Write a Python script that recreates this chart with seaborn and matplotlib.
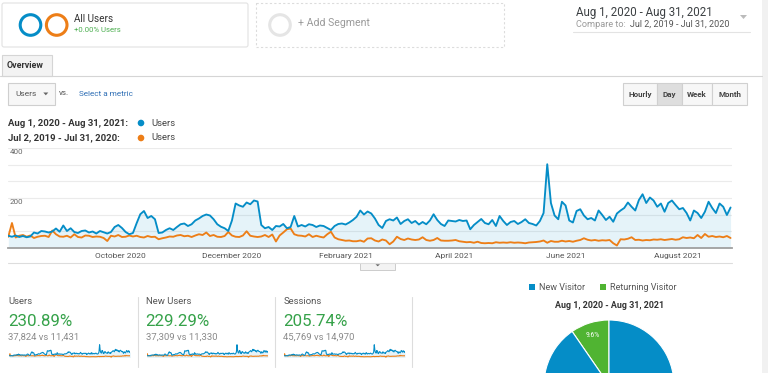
import numpy as np
import pandas as pd
import matplotlib
matplotlib.use("Agg")
import matplotlib.pyplot as plt
import matplotlib.dates as mdates
from matplotlib.patches import Rectangle, Circle, FancyBboxPatch, Polygon
import seaborn as sns

# Users per day (read every 2nd day): Aug 1, 2020 - Aug 31, 2021
users_current = [
    49, 45, 50, 44, 48, 43, 46, 62, 58, 68,
    66, 62, 66, 78, 65, 90, 68, 79, 64, 60,
    68, 70, 62, 66, 58, 68, 63, 58, 64, 84,
    92, 80, 64, 55, 60, 99, 135, 148, 120, 128,
    115, 60, 62, 72, 79, 72, 84, 95, 98, 88,
    95, 110, 118, 128, 134, 130, 115, 95, 85, 79,
    68, 110, 178, 170, 165, 182, 175, 190, 186, 92,
    79, 84, 72, 88, 86, 96, 79, 84, 128, 86,
    92, 86, 95, 92, 84, 90, 88, 80, 72, 88,
    96, 98, 94, 102, 112, 125, 150, 134, 146, 138,
    118, 92, 80, 108, 115, 110, 122, 96, 108, 115,
    100, 108, 94, 104, 95, 110, 135, 112, 96, 88,
    110, 108, 106, 112, 108, 110, 75, 92, 104, 116,
    100, 95, 112, 88, 128, 108, 92, 104, 108, 96,
    104, 115, 100, 96, 90, 108, 140, 335, 180, 130,
    115, 185, 170, 110, 102, 148, 155, 130, 115, 120,
    110, 150, 132, 112, 125, 105, 138, 150, 160, 182,
    165, 150, 192, 215, 180, 202, 190, 165, 178, 145,
    180, 190, 172, 155, 160, 140, 110, 150, 140, 120,
    145, 185, 160, 140, 178, 165, 132, 162,
]
# comparison period: Jul 2, 2019 - Jul 31, 2020
users_previous = [
    45, 100, 42, 49, 52, 45, 50, 40, 45, 48,
    49, 44, 70, 55, 46, 45, 49, 42, 55, 44,
    42, 50, 49, 44, 46, 45, 40, 28, 49, 46,
    52, 44, 45, 50, 46, 49, 44, 42, 48, 44,
    45, 35, 39, 42, 46, 45, 50, 52, 47, 49,
    44, 50, 55, 52, 62, 48, 52, 45, 44, 48,
    64, 50, 45, 44, 50, 67, 49, 46, 44, 46,
    52, 44, 54, 26, 50, 62, 75, 78, 55, 50,
    49, 46, 55, 44, 49, 45, 42, 55, 65, 42,
    35, 32, 29, 30, 27, 27, 30, 25, 38, 39,
    30, 26, 34, 30, 15, 26, 45, 36, 32, 38,
    34, 32, 34, 43, 32, 29, 32, 40, 30, 29,
    29, 30, 32, 27, 25, 23, 24, 21, 25, 20,
    19, 20, 19, 23, 21, 22, 21, 23, 21, 22,
    21, 19, 22, 23, 24, 26, 30, 21, 28, 25,
    25, 29, 26, 28, 25, 29, 32, 39, 33, 30,
    32, 29, 31, 30, 32, 19, 10, 35, 34, 37,
    43, 32, 33, 30, 32, 31, 34, 33, 35, 32,
    34, 36, 33, 35, 43, 40, 42, 39, 52, 40,
    56, 45, 48, 44, 46, 43, 48, 40,
]
dates = pd.date_range("2020-08-01", periods=len(users_current), freq="2D")
month_ticks = ["2020-10-01", "2020-12-01", "2021-02-01", "2021-04-01", "2021-06-01", "2021-08-01"]

metric_names = ["Users", "New Users", "Sessions"]
metric_changes = ["230.89%", "229.29%", "205.74%"]
metric_totals = ["37,824 vs 11,431", "37,309 vs 11,330", "45,769 vs 14,970"]

visitor_types = ["Returning Visitor", "New Visitor"]
visitor_share = [9.6, 90.4]

BLUE = "#058dc7"
ORANGE = "#ed7e17"
GREEN = "#50b432"
W, H = 768, 373

sns.set_style("white")
plt.rcParams["font.family"] = ["Roboto", "DejaVu Sans"]

fig = plt.figure(figsize=(W / 100, H / 100), dpi=100)


def px_axes(x0, y0, x1, y1, **kw):
    return fig.add_axes([x0 / W, 1 - y1 / H, (x1 - x0) / W, (y1 - y0) / H], **kw)


# background layer in pixel coordinates
bg = px_axes(0, 0, W, H)
bg.set_xlim(0, W)
bg.set_ylim(H, 0)
bg.axis("off")
bg.add_patch(Rectangle((762, 0), 6, H, fc="#f1f1f1", ec="none"))

# segment boxes
bg.add_patch(FancyBboxPatch((2, 3), 246, 44, boxstyle="round,pad=0,rounding_size=2",
                            fc="white", ec="#e2e2e2", lw=0.8))
bg.add_patch(Rectangle((256, 3), 248, 44, fill=False, ec="#dcdcdc", lw=0.8, ls=(0, (2, 2))))
bg.add_patch(Circle((30.5, 25), 10.3, fill=False, ec=BLUE, lw=2.2))
bg.add_patch(Circle((56.7, 25), 10.3, fill=False, ec=ORANGE, lw=2.2))
bg.add_patch(Circle((280, 25), 10.3, fill=False, ec="#e5e5e5", lw=2.2))
bg.text(74, 18.5, "All Users", fontsize=7.2, color="#333333", va="center")
bg.text(74, 30.5, "+0.00% Users", fontsize=5.6, color="#4caf50", va="center")
bg.text(298, 22.5, "+ Add Segment", fontsize=7.6, color="#9a9a9a", va="center")

# date range picker
bg.text(576, 12.5, "Aug 1, 2020 - Aug 31, 2021", fontsize=8.3, color="#3c4043", va="center")
bg.text(576, 24.5, "Compare to:", fontsize=6.6, color="#9a9a9a", va="center")
bg.text(630, 24.5, "Jul 2, 2019 - Jul 31, 2020", fontsize=6.5, color="#555555", va="center")
bg.add_patch(Polygon([(740, 15), (747, 15), (743.5, 19)], fc="#bbbbbb", ec="none"))
bg.plot([573, 750], [32, 32], color="#e3e3e3", lw=0.8)

# tab bar
bg.plot([0, 762], [75.5, 75.5], color="#d5d5d5", lw=0.8)
bg.add_patch(Rectangle((2, 55), 50, 20.5, fc="#f3f3f3", ec="#d5d5d5", lw=0.8))
bg.text(7, 65.5, "Overview", fontsize=6.4, fontweight="bold", color="#333333", va="center")

# metric selector
bg.add_patch(Rectangle((8.3, 83.3), 46.7, 21.7, fc="#f7f7f7", ec="#cfcfcf", lw=0.8))
bg.text(15.5, 94, "Users", fontsize=6, color="#555555", va="center")
bg.add_patch(Polygon([(43.3, 92.5), (48.3, 92.5), (45.8, 95.3)], fc="#666666", ec="none"))
bg.text(59.3, 93, "vs.", fontsize=5.8, color="#555555", va="center")
bg.text(78.7, 93.5, "Select a metric", fontsize=5.9, color="#2e6eb5", va="center")

# granularity buttons
edges = [623, 657.3, 682, 712.3, 747]
for i, name in enumerate(["Hourly", "Day", "Week", "Month"]):
    fc = "#dedede" if name == "Day" else "#f7f7f7"
    bg.add_patch(Rectangle((edges[i], 83.3), edges[i + 1] - edges[i], 21.7,
                           fc=fc, ec="#d0d0d0", lw=0.8))
    bg.text((edges[i] + edges[i + 1]) / 2, 94.2, name, fontsize=5.8, fontweight="bold",
            color="#444444", ha="center", va="center")

# series legend
for y, label, col in [(123, "Aug 1, 2020 - Aug 31, 2021:", BLUE),
                      (138, "Jul 2, 2019 - Jul 31, 2020:", ORANGE)]:
    bg.text(8.3, y, label, fontsize=6.8, fontweight="bold", color="#333333", va="center")
    bg.add_patch(Circle((141, y), 3.3, fc=col, ec="none"))
    bg.text(151, y, "Users", fontsize=6.8, color="#444444", va="center")

# below chart: scroll strip
bg.plot([8, 732], [262.5, 262.5], color="#dddddd", lw=0.8)
bg.add_patch(Rectangle((360, 262.5), 35, 7, fc="#f3f3f3", ec="#cccccc", lw=0.7))
bg.add_patch(Polygon([(375.5, 264.3), (380, 264.3), (377.7, 266.3)], fc="#666666", ec="none"))

# metric blocks
block_x = [8.3, 145.7, 283.3]
for x in [138, 275, 412]:
    bg.plot([x, x], [297, 367], color="#dddddd", lw=0.8)
for x, name, chg, tot in zip(block_x, metric_names, metric_changes, metric_totals):
    bg.text(x, 301.7, name, fontsize=6.8, color="#555555", va="center")
    bg.text(x, 321, chg, fontsize=12.2, color="#36a24a", va="center")
    bg.text(x, 336.7, tot, fontsize=6.8, color="#8a8a8a", va="center")

# pie legend and title
bg.add_patch(Rectangle((529, 284), 6.3, 6.3, fc=BLUE, ec="none"))
bg.text(539.3, 287.3, "New Visitor", fontsize=6.5, color="#555555", va="center")
bg.add_patch(Rectangle((600, 284), 6.3, 6.3, fc=GREEN, ec="none"))
bg.text(610, 287.3, "Returning Visitor", fontsize=6.5, color="#555555", va="center")
bg.text(609.2, 305, "Aug 1, 2020 - Aug 31, 2021", fontsize=6.4, fontweight="bold",
        color="#333333", ha="center", va="center")

# main chart
df = pd.DataFrame({"date": dates, "current": users_current, "previous": users_previous})
ax = px_axes(8.3, 148, 732.4, 248)
ax.patch.set_alpha(0)
ax.fill_between(df["date"], df["current"], color=BLUE, alpha=0.1, lw=0)
sns.lineplot(data=df, x="date", y="previous", ax=ax, color=ORANGE, lw=1.35)
sns.lineplot(data=df, x="date", y="current", ax=ax, color=BLUE, lw=1.35)
ax.set_xlim(pd.Timestamp("2020-08-01"), pd.Timestamp("2021-08-31"))
ax.set_ylim(0, 400)
ax.set_yticks(np.linspace(0, 400, 7))
ax.yaxis.grid(True, color="#ebebeb", lw=0.8)
ax.set_yticklabels([])
ax.tick_params(axis="y", length=0)
ax.set_xticks(pd.to_datetime(month_ticks))
ax.xaxis.set_major_formatter(mdates.DateFormatter("%B %Y"))
ax.tick_params(axis="x", length=0, pad=3.5, labelsize=6, labelcolor="#555555")
ax.set_xlabel("")
ax.set_ylabel("")
for s in ["top", "left", "right"]:
    ax.spines[s].set_visible(False)
ax.spines["bottom"].set_color("#a0a0a0")
ax.spines["bottom"].set_linewidth(1.3)
for v in [400, 200]:
    ax.text(0.002, v - 3, str(v), transform=ax.get_yaxis_transform(), fontsize=5.8,
            color="#666666", va="top")

# sparklines
for x0 in [9.3, 146.7, 284]:
    sp = px_axes(x0, 340, x0 + 121, 357.5)
    sp.patch.set_alpha(0)
    sp.fill_between(df["date"], df["current"], color=BLUE, alpha=0.1, lw=0)
    sns.lineplot(data=df, x="date", y="previous", ax=sp, color=ORANGE, lw=0.8)
    sns.lineplot(data=df, x="date", y="current", ax=sp, color=BLUE, lw=0.8)
    sp.set_xlim(df["date"].iloc[0], df["date"].iloc[-1])
    sp.set_ylim(0, 460)
    sp.axis("off")

# pie (partly cut off by bottom edge)
pax = px_axes(544, 320, 674, 450)
pax.pie(visitor_share, colors=[GREEN, BLUE], startangle=90, counterclock=True,
        radius=1, wedgeprops={"edgecolor": "white", "linewidth": 0.8})
pax.set_xlim(-1, 1)
pax.set_ylim(-1, 1)
pax.set_aspect("equal")
pax.text(-0.25, 0.76, "9.6%", fontsize=4.8, color="white", ha="center", va="center")

fig.savefig("out.png", dpi=100)
